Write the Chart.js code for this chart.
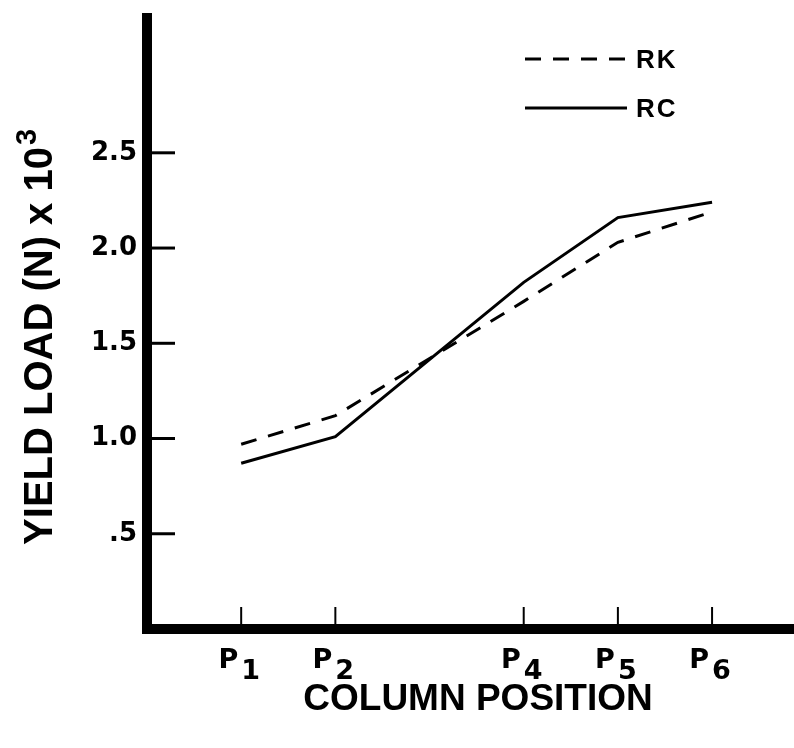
<!DOCTYPE html>
<html>
<head>
<meta charset="utf-8">
<script src="https://cdn.jsdelivr.net/npm/chart.js@4/dist/chart.umd.min.js"></script>
<style>
  body { margin: 0; background: #fff; }
  canvas { display: block; }
</style>
</head>
<body>
<canvas id="chart" width="794" height="748"></canvas>
<script>
// column positions (P3 was not tested)
const positions = [1, 2, 4, 5, 6];
const positionLabels = ["1", "2", "4", "5", "6"];
// yield load, N x 10^3
const rkValues = [0.97, 1.12, 1.72, 2.03, 2.19];
const rcValues = [0.87, 1.01, 1.82, 2.16, 2.24];
const yTicks = [0.5, 1.0, 1.5, 2.0, 2.5];

const toPoints = (vals) => vals.map((v, i) => ({ x: positions[i], y: v }));

const drawExtras = {
    id: "drawExtras",
    afterDraw(chart) {
        const ctx = chart.ctx;
        const xs = chart.scales.x;
        const ys = chart.scales.y;
        const area = chart.chartArea;
        ctx.save();
        ctx.fillStyle = "#000";
        ctx.strokeStyle = "#000";

        // axes
        ctx.fillRect(area.left - 5, area.top, 10, area.bottom - area.top + 5);
        ctx.fillRect(area.left - 5, area.bottom - 5, area.right - area.left + 5, 10);

        // y ticks, pointing in
        ctx.lineWidth = 3;
        yTicks.forEach((t) => {
            const y = ys.getPixelForValue(t);
            ctx.beginPath();
            ctx.moveTo(area.left + 5, y);
            ctx.lineTo(area.left + 28, y);
            ctx.stroke();
        });

        // x ticks, pointing up
        ctx.lineWidth = 2;
        positions.forEach((p) => {
            const x = xs.getPixelForValue(p);
            ctx.beginPath();
            ctx.moveTo(x, area.bottom - 5);
            ctx.lineTo(x, area.bottom - 22);
            ctx.stroke();
        });

        // x tick labels P with subscript
        ctx.font = "bold 27px 'DejaVu Sans'";
        ctx.textBaseline = "alphabetic";
        positions.forEach((p, i) => {
            const x = xs.getPixelForValue(p);
            ctx.textAlign = "right";
            ctx.fillText("P", x - 3, 668);
            ctx.textAlign = "left";
            ctx.fillText(positionLabels[i], x, 679);
        });

        // x title
        ctx.font = "bold 37px 'Liberation Sans'";
        ctx.textAlign = "center";
        ctx.textBaseline = "alphabetic";
        ctx.fillText("COLUMN POSITION", 478, 710);

        // y title with superscript
        ctx.save();
        ctx.translate(52, 346);
        ctx.rotate(-Math.PI / 2);
        ctx.font = "bold 40px 'Liberation Sans'";
        const main = "YIELD LOAD (N) x 10";
        const w = ctx.measureText(main).width;
        ctx.textAlign = "left";
        ctx.fillText(main, -w / 2, 0);
        ctx.font = "bold 29px 'Liberation Sans'";
        ctx.fillText("3", w / 2 + 2, -16);
        ctx.restore();

        // legend
        ctx.font = "bold 26px 'Liberation Sans'";
        ctx.letterSpacing = "2px";
        ctx.textAlign = "left";
        ctx.textBaseline = "middle";
        ctx.lineWidth = 3;
        chart.data.datasets.forEach((ds, i) => {
            const y = 59 + i * 49;
            ctx.setLineDash(ds.borderDash || []);
            ctx.beginPath();
            ctx.moveTo(525, y);
            ctx.lineTo(627, y);
            ctx.stroke();
            ctx.setLineDash([]);
            ctx.fillText(ds.label, 636, y + 2);
        });
        ctx.letterSpacing = "0px";
        ctx.restore();
    },
};

new Chart(document.getElementById("chart"), {
    type: "line",
    data: {
        datasets: [
            {
                label: "RK",
                data: toPoints(rkValues),
                borderColor: "#000",
                borderWidth: 3,
                borderDash: [16, 12],
                pointRadius: 0,
                tension: 0,
            },
            {
                label: "RC",
                data: toPoints(rcValues),
                borderColor: "#000",
                borderWidth: 3,
                pointRadius: 0,
                tension: 0,
            },
        ],
    },
    options: {
        responsive: false,
        animation: false,
        layout: { padding: { top: 13, right: 0, left: 0, bottom: 0 } },
        plugins: {
            legend: { display: false },
            tooltip: { enabled: false },
        },
        scales: {
            x: {
                type: "linear",
                min: 0,
                max: 6.87,
                grid: { display: false },
                border: { display: false },
                ticks: { display: false },
                afterFit: (scale) => {
                    scale.height = 119;
                    scale.paddingLeft = 0;
                    scale.paddingRight = 0;
                },
            },
            y: {
                min: 0,
                max: 3.234,
                grid: { display: false, drawTicks: false },
                border: { display: false },
                afterBuildTicks: (scale) => {
                    scale.ticks = yTicks.map((v) => ({ value: v }));
                },
                ticks: {
                    color: "#000",
                    padding: 10,
                    font: { family: "'DejaVu Sans'", weight: "bold", size: 26 },
                    callback: (v) => (v < 1 ? v.toFixed(1).replace(/^0/, "") : v.toFixed(1)),
                },
                afterFit: (scale) => {
                    scale.width = 147;
                    scale.paddingTop = 0;
                    scale.paddingBottom = 0;
                },
            },
        },
    },
    plugins: [drawExtras],
});
</script>
</body>
</html>
